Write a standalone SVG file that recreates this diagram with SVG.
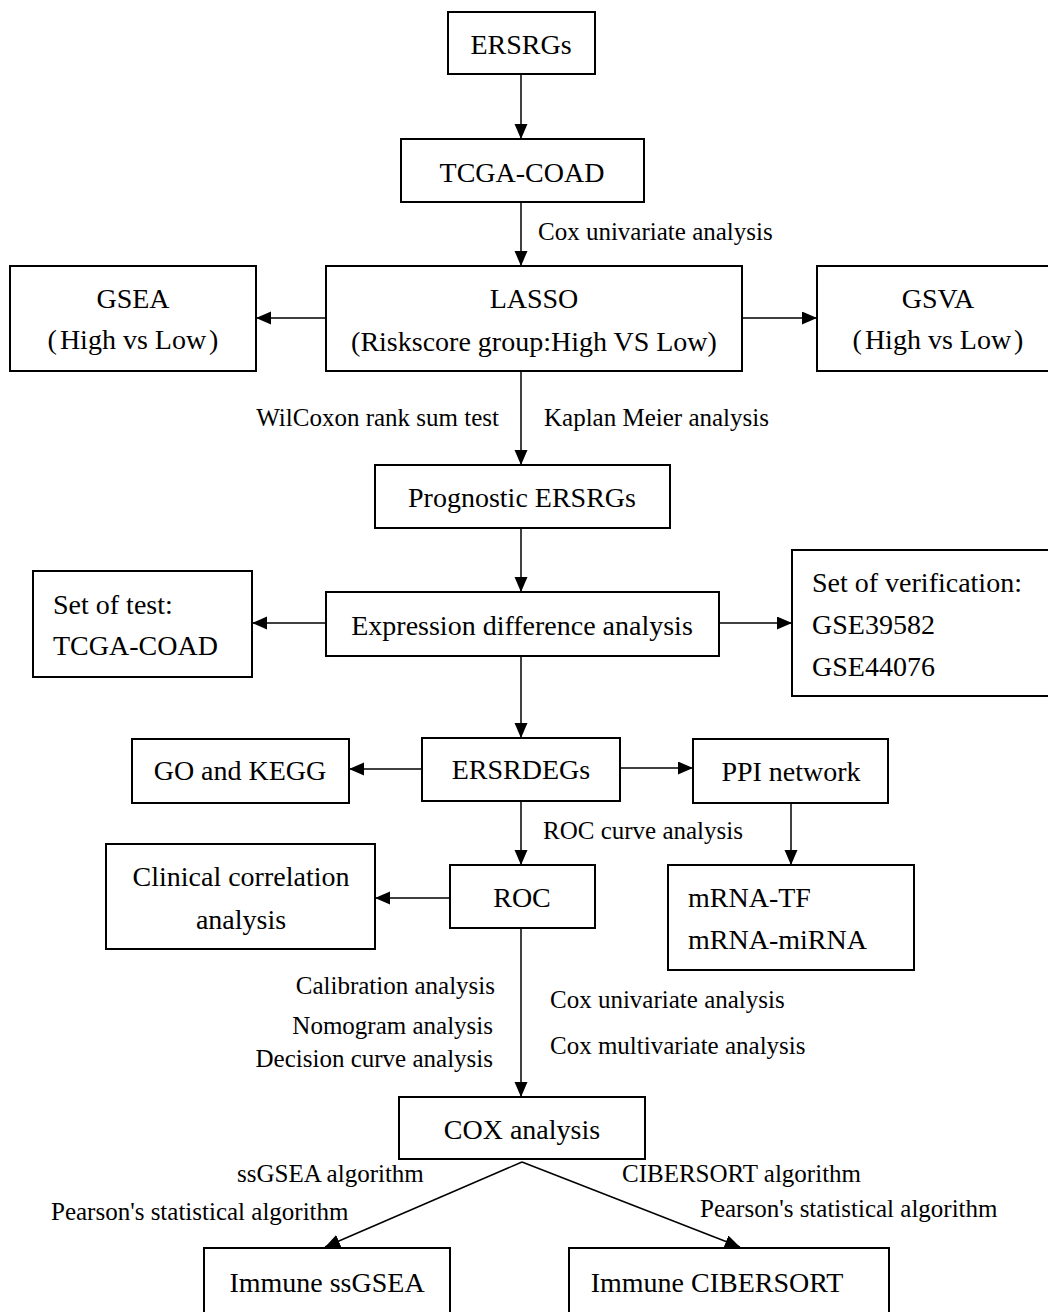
<svg xmlns="http://www.w3.org/2000/svg" width="1048" height="1312" viewBox="0 0 1048 1312">
<style>
.box{fill:#fff;stroke:#000;stroke-width:2}
.t{font-family:"Liberation Serif","Times New Roman",serif;font-size:28px;fill:#000}
.m{text-anchor:middle}
.l{font-family:"Liberation Serif","Times New Roman",serif;font-size:25px;fill:#000}
.e{text-anchor:end}
.c{fill:none;stroke:#000;stroke-width:1.5}
</style>
<defs>
<marker id="ah" markerUnits="userSpaceOnUse" markerWidth="16" markerHeight="14" refX="15" refY="6.5" orient="auto">
<path d="M0,0 L15,6.5 L0,13 z" fill="#000"/>
</marker>
</defs>
<rect width="1048" height="1312" fill="#fff"/>
<g id="connectors">
<line class="c" x1="521" y1="74" x2="521" y2="139" marker-end="url(#ah)"/>
<line class="c" x1="521" y1="202" x2="521" y2="266" marker-end="url(#ah)"/>
<line class="c" x1="326" y1="318" x2="256" y2="318" marker-end="url(#ah)"/>
<line class="c" x1="742" y1="318" x2="817" y2="318" marker-end="url(#ah)"/>
<line class="c" x1="521" y1="371" x2="521" y2="465" marker-end="url(#ah)"/>
<line class="c" x1="521" y1="528" x2="521" y2="592" marker-end="url(#ah)"/>
<line class="c" x1="326" y1="623" x2="252" y2="623" marker-end="url(#ah)"/>
<line class="c" x1="719" y1="623" x2="792" y2="623" marker-end="url(#ah)"/>
<line class="c" x1="521" y1="656" x2="521" y2="738" marker-end="url(#ah)"/>
<line class="c" x1="422" y1="769" x2="349" y2="769" marker-end="url(#ah)"/>
<line class="c" x1="620" y1="768" x2="693" y2="768" marker-end="url(#ah)"/>
<line class="c" x1="521" y1="801" x2="521" y2="865" marker-end="url(#ah)"/>
<line class="c" x1="791" y1="803" x2="791" y2="865" marker-end="url(#ah)"/>
<line class="c" x1="450" y1="898" x2="375" y2="898" marker-end="url(#ah)"/>
<line class="c" x1="521" y1="928" x2="521" y2="1097" marker-end="url(#ah)"/>
<line class="c" x1="522" y1="1162" x2="325" y2="1247" marker-end="url(#ah)"/>
<line class="c" x1="522" y1="1162" x2="740" y2="1247" marker-end="url(#ah)"/>
<text class="l" x="538" y="240">Cox univariate analysis</text>
<text class="l e" x="499" y="426">WilCoxon rank sum test</text>
<text class="l" x="544" y="426">Kaplan Meier analysis</text>
<text class="l" x="543" y="839">ROC curve analysis</text>
<text class="l e" x="495" y="994">Calibration analysis</text>
<text class="l e" x="493" y="1034">Nomogram analysis</text>
<text class="l e" x="493" y="1067">Decision curve analysis</text>
<text class="l" x="550" y="1008">Cox univariate analysis</text>
<text class="l" x="550" y="1054">Cox multivariate analysis</text>
<text class="l" x="237" y="1182">ssGSEA algorithm</text>
<text class="l" x="51" y="1220">Pearson's statistical algorithm</text>
<text class="l" x="622" y="1182">CIBERSORT algorithm</text>
<text class="l" x="700" y="1217">Pearson's statistical algorithm</text>
</g>
<g id="n-ersrgs"><rect class="box" x="448" y="12" width="147" height="62"/><text class="t m" x="521" y="54">ERSRGs</text></g>
<g id="n-tcga"><rect class="box" x="401" y="139" width="243" height="63"/><text class="t m" x="522" y="182">TCGA-COAD</text></g>
<g id="n-lasso"><rect class="box" x="326" y="266" width="416" height="105"/><text class="t m" x="534" y="308">LASSO</text><text class="t m" x="534" y="351">(Riskscore group:High VS Low)</text></g>
<g id="n-gsea"><rect class="box" x="10" y="266" width="246" height="105"/><text class="t m" x="133" y="308">GSEA</text><text class="t m" x="133" y="349">(<tspan dx="3">High vs Low</tspan><tspan dx="3">)</tspan></text></g>
<g id="n-gsva"><rect class="box" x="817" y="266" width="240" height="105"/><text class="t m" x="938" y="308">GSVA</text><text class="t m" x="938" y="349">(<tspan dx="3">High vs Low</tspan><tspan dx="3">)</tspan></text></g>
<g id="n-prog"><rect class="box" x="375" y="465" width="295" height="63"/><text class="t m" x="522" y="507">Prognostic ERSRGs</text></g>
<g id="n-expr"><rect class="box" x="326" y="592" width="393" height="64"/><text class="t m" x="522" y="635">Expression difference analysis</text></g>
<g id="n-test"><rect class="box" x="33" y="571" width="219" height="106"/><text class="t" x="53" y="614">Set of test:</text><text class="t" x="53" y="655">TCGA-COAD</text></g>
<g id="n-verif"><rect class="box" x="792" y="550" width="270" height="146"/><text class="t" x="812" y="592">Set of verification:</text><text class="t" x="812" y="634">GSE39582</text><text class="t" x="812" y="676">GSE44076</text></g>
<g id="n-ersrdegs"><rect class="box" x="422" y="738" width="198" height="63"/><text class="t m" x="521" y="779">ERSRDEGs</text></g>
<g id="n-gokegg"><rect class="box" x="132" y="739" width="217" height="64"/><text class="t m" x="240" y="780">GO and KEGG</text></g>
<g id="n-ppi"><rect class="box" x="693" y="739" width="195" height="64"/><text class="t m" x="791" y="781">PPI network</text></g>
<g id="n-roc"><rect class="box" x="450" y="865" width="145" height="63"/><text class="t m" x="522" y="907">ROC</text></g>
<g id="n-clinical"><rect class="box" x="106" y="844" width="269" height="105"/><text class="t m" x="241" y="886">Clinical correlation</text><text class="t m" x="241" y="929">analysis</text></g>
<g id="n-mrna"><rect class="box" x="668" y="865" width="246" height="105"/><text class="t" x="688" y="907">mRNA-TF</text><text class="t" x="688" y="949">mRNA-miRNA</text></g>
<g id="n-cox"><rect class="box" x="399" y="1097" width="246" height="62"/><text class="t m" x="522" y="1139">COX analysis</text></g>
<g id="n-ssgsea"><rect class="box" x="204" y="1248" width="246" height="80"/><text class="t m" x="327" y="1292">Immune ssGSEA</text></g>
<g id="n-cibersort"><rect class="box" x="569" y="1248" width="320" height="80"/><text class="t m" x="717" y="1292">Immune CIBERSORT</text></g>
</svg>
